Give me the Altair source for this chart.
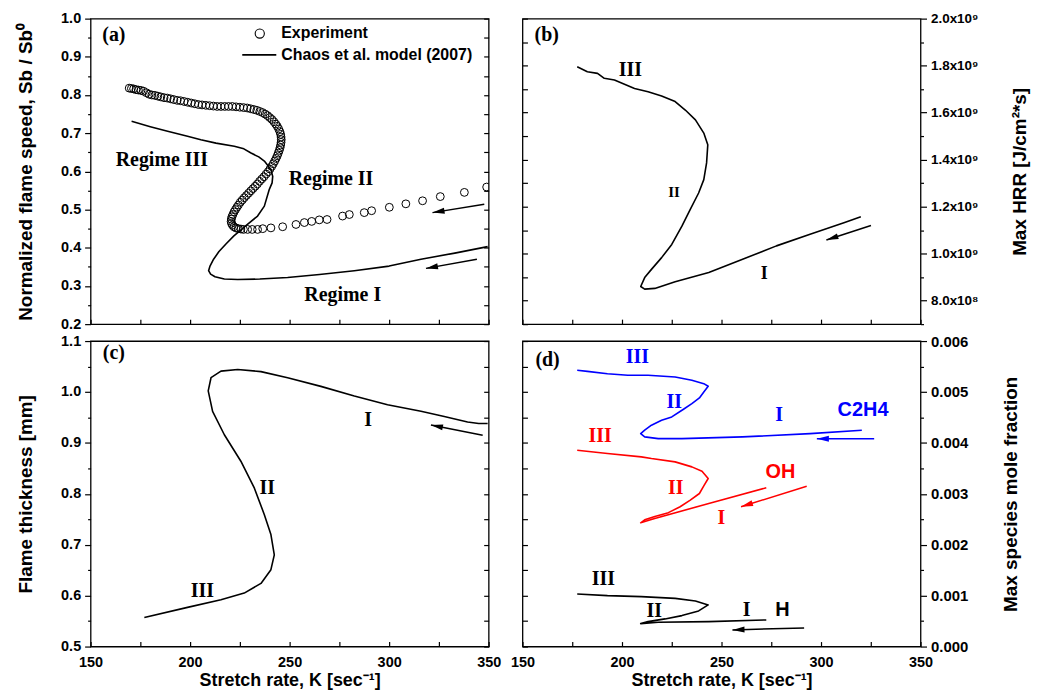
import math
import altair as alt
import pandas as pd

# ---------------- data ----------------
# (a) normalized flame speed: experiment (K, Sb/Sb0)
a_exp = [(169.4, 0.818), (170.5, 0.817), (171.6, 0.816), (172.8, 0.814), (174.0, 0.813), (175.3, 0.812),
         (176.6, 0.810), (178.0, 0.806), (179.4, 0.802), (180.8, 0.800), (182.3, 0.799), (183.8, 0.797),
         (185.3, 0.795), (186.9, 0.793), (188.5, 0.792), (190.2, 0.790), (191.8, 0.788), (193.5, 0.786),
         (195.2, 0.785), (197.0, 0.783), (198.8, 0.781), (200.6, 0.779), (202.4, 0.777), (204.2, 0.775),
         (206.0, 0.774), (207.9, 0.773), (209.8, 0.772), (211.7, 0.771), (213.6, 0.770), (215.5, 0.770),
         (217.4, 0.770), (219.3, 0.770), (221.2, 0.770), (223.1, 0.769), (225.0, 0.768), (226.9, 0.767),
         (228.7, 0.766), (230.4, 0.764), (232.0, 0.762), (233.5, 0.760), (235.0, 0.757), (236.4, 0.754),
         (237.7, 0.750), (238.9, 0.746), (240.0, 0.741), (241.1, 0.736), (242.1, 0.730), (243.0, 0.724),
         (243.8, 0.718), (244.5, 0.711), (245.1, 0.704), (245.5, 0.697), (245.7, 0.690), (245.8, 0.683),
         (245.7, 0.676), (245.5, 0.669), (245.2, 0.662), (244.8, 0.655), (244.3, 0.648), (243.8, 0.641),
         (243.2, 0.634), (242.5, 0.627), (241.8, 0.620), (241.0, 0.613), (240.1, 0.606), (239.2, 0.599),
         (238.2, 0.593), (237.1, 0.586), (236.0, 0.580), (234.9, 0.574), (233.8, 0.567), (232.7, 0.561),
         (231.6, 0.555), (230.5, 0.549), (229.4, 0.543), (228.3, 0.537), (227.2, 0.531), (226.2, 0.525),
         (225.2, 0.519), (224.3, 0.512), (223.5, 0.506), (222.8, 0.500), (222.1, 0.494), (221.5, 0.487),
         (221.0, 0.481), (220.7, 0.475), (220.6, 0.469), (220.8, 0.464), (221.3, 0.459), (222.0, 0.455),
         (223.0, 0.452), (224.2, 0.450), (225.5, 0.449), (226.8, 0.448), (228.9, 0.448), (231.2, 0.448),
         (233.9, 0.448), (236.5, 0.450), (240.6, 0.452), (246.5, 0.455), (253.2, 0.461), (257.4, 0.466),
         (261.1, 0.469), (264.9, 0.473), (268.8, 0.474), (276.6, 0.483), (280.0, 0.487), (287.5, 0.492),
         (291.2, 0.497), (300.1, 0.506), (308.4, 0.515), (316.8, 0.523), (325.7, 0.534), (337.8, 0.545),
         (349.0, 0.559)]
# (a) Chaos et al. model (2007)
a_mod = [(170.6, 0.731), (180.0, 0.717), (188.7, 0.705), (198.7, 0.692), (205.4, 0.683), (213.0, 0.674),
         (222.2, 0.666), (227.0, 0.659), (230.6, 0.648), (234.5, 0.638), (237.3, 0.627), (240.6, 0.605),
         (241.5, 0.587), (241.2, 0.570), (239.8, 0.553), (237.3, 0.509), (233.9, 0.483), (228.5, 0.460),
         (222.0, 0.431), (218.0, 0.410), (214.5, 0.390), (211.8, 0.370), (210.0, 0.352), (209.3, 0.340),
         (210.3, 0.331), (212.5, 0.324), (217.2, 0.318), (223.9, 0.317), (235.0, 0.318), (249.0, 0.322),
         (265.0, 0.330), (282.5, 0.340), (300.0, 0.352), (316.0, 0.370), (333.0, 0.386), (349.5, 0.403)]

# (b) max heat release rate (K, HRR)
b_k = [177.5, 182.6, 187.7, 191.1, 196.2, 206.3, 213.1, 219.9, 226.7, 231.8, 236.9, 241.1, 243.1, 242.5,
       241.1, 238.5, 234.3, 230.1, 225.0, 219.9, 214.8, 211.4, 209.4, 211.4, 216.5, 226.7, 243.6, 260.6,
       277.6, 294.5, 311.5, 320.0]
b_hrr = [1.795e9, 1.774e9, 1.767e9, 1.746e9, 1.739e9, 1.703e9, 1.689e9, 1.671e9, 1.647e9, 1.611e9,
         1.569e9, 1.513e9, 1.463e9, 1.386e9, 1.315e9, 1.258e9, 1.188e9, 1.117e9, 1.039e9, 0.983e9,
         0.933e9, 0.898e9, 0.860e9, 0.849e9, 0.852e9, 0.880e9, 0.920e9, 0.976e9, 1.033e9, 1.082e9,
         1.131e9, 1.157e9]

# (c) flame thickness (K, mm)
c_k = [177.0, 198.7, 215.5, 227.2, 235.6, 240.6, 242.3, 240.6, 237.3, 232.3, 225.5, 217.2, 211.3, 209.1,
       210.5, 215.5, 223.9, 235.6, 249.0, 265.7, 282.5, 299.2, 316.0, 327.7, 339.4, 345.0, 349.5]
c_thk = [0.557, 0.577, 0.592, 0.605, 0.624, 0.651, 0.680, 0.720, 0.759, 0.811, 0.864, 0.916, 0.962, 1.002,
         1.028, 1.041, 1.044, 1.040, 1.028, 1.011, 0.992, 0.975, 0.962, 0.952, 0.941, 0.938, 0.938]

# (d) max species mole fraction
d_c2h4_k = [177.5, 182.6, 192.7, 202.9, 213.1, 226.7, 235.1, 241.1, 243.3, 241.1, 238.9, 235.1, 230.9,
            225.0, 219.9, 214.8, 211.4, 209.4, 211.4, 218.2, 230.1, 260.6, 294.5, 320.5]
d_c2h4 = [0.005425, 0.005405, 0.005359, 0.005327, 0.005327, 0.005294, 0.005229, 0.005163, 0.005112,
          0.005000, 0.004882, 0.004771, 0.004661, 0.004510, 0.004445, 0.004347, 0.004249, 0.004182,
          0.004118, 0.004084, 0.004084, 0.004118, 0.004182, 0.004249]
d_oh_k = [177.5, 192.7, 209.7, 214.8, 226.7, 235.1, 240.2, 243.3, 241.1, 238.9, 234.3, 229.2, 223.3,
          216.5, 211.4, 209.4, 216.0, 243.6, 272.5]
d_oh = [0.003857, 0.003790, 0.003725, 0.003692, 0.003627, 0.003529, 0.003444, 0.003300, 0.003157,
        0.003006, 0.002876, 0.002745, 0.002630, 0.002555, 0.002490, 0.002431, 0.002510, 0.002810, 0.003118]
d_h_k = [177.5, 192.7, 209.7, 226.7, 236.9, 243.3, 238.5, 230.1, 221.6, 213.1, 209.4, 218.2, 243.6, 272.5]
d_h = [0.001033, 0.001000, 0.000980, 0.000947, 0.000896, 0.000818, 0.000700, 0.000608, 0.000543,
       0.000490, 0.000451, 0.000477, 0.000490, 0.000523]

# arrows (start K, start value, end K, end value[, colour])
a_arrows = [(347.8, 0.514, 321.8, 0.492), (344.1, 0.370, 318.5, 0.346)]
b_arrows = [(325.1, 1.120e9, 302.7, 1.058e9)]
c_arrows = [(347.0, 0.915, 321.0, 0.935)]
d_arrows = [(326.7, 0.00408, 297.9, 0.00408, "#0000ff"),
            (292.8, 0.00315, 259.8, 0.002745, "#ff0000"),
            (291.5, 0.000366, 255.5, 0.000327, "#000000")]

# text annotations (K, value, text, colour, size)
a_serif = [(161.7, 0.957, "(a)", "black", 20), (185.8, 0.631, "Regime III", "black", 20),
           (270.8, 0.579, "Regime II", "black", 20), (276.7, 0.275, "Regime I", "black", 20)]
b_serif = [(162.2, 1.929e9, "(b)", "black", 20), (204.2, 1.781e9, "III", "black", 20),
           (226.1, 1.264e9, "II", "black", 15), (271.5, 0.914e9, "I", "black", 18)]
c_serif = [(161.7, 1.077, "(c)", "black", 20), (289.5, 0.944, "I", "black", 20),
           (238.7, 0.811, "II", "black", 20), (206.2, 0.609, "III", "black", 20)]
d_serif = [(162.6, 0.00562, "(d)", "black", 20),
           (207.7, 0.005686, "III", "#0000ff", 20), (226.2, 0.004804, "II", "#0000ff", 20),
           (278.9, 0.004543, "I", "#0000ff", 20),
           (189.0, 0.004137, "III", "#ff0000", 20), (227.0, 0.003118, "II", "#ff0000", 20),
           (249.9, 0.002516, "I", "#ff0000", 20),
           (190.6, 0.001327, "III", "black", 20), (216.2, 0.000700, "II", "black", 20),
           (262.6, 0.000719, "I", "black", 20)]
d_sans = [(321.1, 0.004641, "C2H4", "#0000ff", 20), (279.6, 0.003418, "OH", "#ff0000", 20),
          (280.6, 0.000719, "H", "black", 20)]

# legend of (a)
leg_marker = (235.0, 0.961)
leg_line = [(226.2, 0.905), (243.3, 0.905)]
leg_text = [(245.8, 0.961, "Experiment"), (245.8, 0.905, "Chaos et al. model (2007)")]

X_TICKS = list(range(150, 351, 25))
A_DOM, A_TICKS = [0.2, 1.0], [round(0.2 + 0.05 * i, 2) for i in range(17)]
B_DOM, B_TICKS = [0.7e9, 2.0e9], [round(7 + i) * 1e8 for i in range(14)]
C_DOM, C_TICKS = [0.5, 1.1], [round(0.5 + 0.05 * i, 2) for i in range(13)]
D_DOM, D_TICKS = [0.0, 0.006], [round(0.0005 * i, 4) for i in range(13)]

# ---------------- styling ----------------
W, H = 400, 307
SANS = "Liberation Sans"
SERIF = "Liberation Serif"
ARROW_HEAD = "M0,0L0.55,2.2L-0.55,2.2Z"


def x_enc(bottom):
    if bottom:
        ax = alt.Axis(values=X_TICKS, labelExpr="round(datum.value) % 50 == 0 ? datum.label : ''",
                      title="Stretch rate, K [sec⁻¹]", tickSize=5, offset=-5, labelPadding=9,
                      titlePadding=3, domain=False, grid=False, labelFlush=False,
                      labelFontSize=14.5, titleFontSize=18)
    else:
        ax = alt.Axis(values=X_TICKS, labels=False, title=None, tickSize=5, offset=-5,
                      domain=False, grid=False)
    return alt.X("k:Q", scale=alt.Scale(domain=[150, 350], nice=False, zero=False), axis=ax)


def y_enc(dom, ticks, label_expr, major_test, orient, title, label_size=14.5, title_pad=25):
    kw = dict(values=ticks, labelExpr=label_expr, orient=orient, title=title,
              tickSize={"condition": {"test": major_test, "value": 6}, "value": 3},
              labelPadding=4, titlePadding=title_pad, domain=False, grid=False,
              labelFontSize=label_size, labelFlush=False, titleFontSize=19)
    if orient == "right":
        kw.update(titleAngle=270, titleBaseline="top")
    return alt.Y("v:Q", scale=alt.Scale(domain=dom, nice=False, zero=False), axis=alt.Axis(**kw))


def mirror_y(dom, ticks, orient):
    return alt.Y("v:Q", scale=alt.Scale(domain=dom, nice=False, zero=False),
                 axis=alt.Axis(values=ticks, orient=orient, labels=False, title=None, tickSize=5,
                               offset=-5, domain=False, grid=False))


def arrows(arrs, dom, color_default="black"):
    rows, heads = [], []
    for j, a in enumerate(arrs):
        k0, v0, k1, v1 = a[:4]
        col = a[4] if len(a) > 4 else color_default
        rows += [{"k": k0, "v": v0, "id": j, "i": 0, "c": col}, {"k": k1, "v": v1, "id": j, "i": 1, "c": col}]
        dxs = (k1 - k0) * W / 200.0
        dys = -(v1 - v0) * H / (dom[1] - dom[0])
        ang = math.degrees(math.atan2(dxs, -dys)) % 360
        heads.append({"k": k1, "v": v1, "ang": ang, "c": col})
    return pd.DataFrame(rows), pd.DataFrame(heads)


def panel(xe, ye, ym, dom, curves, points_df, arrs, serif_items, sans_items=None, extra=None):
    layers = []
    for df, color in curves:
        layers.append(alt.Chart(df).mark_line(strokeWidth=1.6, strokeJoin="round", color=color)
                      .encode(x=xe, y=ye, order="i:Q"))
    if points_df is not None:
        layers.append(alt.Chart(points_df).mark_point(shape="circle", filled=False, size=62,
                                                      strokeWidth=1, color="black", opacity=1, clip=True)
                      .encode(x=xe, y=ye))
    adf, hdf = arrows(arrs, dom)
    layers.append(alt.Chart(adf).mark_line(strokeWidth=1.5)
                  .encode(x=xe, y=ye, order="i:Q", detail="id:N", color=alt.Color("c:N", scale=None)))
    layers.append(alt.Chart(hdf).mark_point(shape=ARROW_HEAD, filled=True, size=121, opacity=1, strokeWidth=0)
                  .encode(x=xe, y=ye, angle=alt.Angle("ang:Q", scale=None), color=alt.Color("c:N", scale=None)))
    for items, font in ((serif_items, SERIF), (sans_items, SANS)):
        if items:
            df = pd.DataFrame(items, columns=["k", "v", "t", "c", "s"])
            layers.append(alt.Chart(df).mark_text(font=font, fontWeight="bold", align="center", baseline="middle")
                          .encode(x=xe, y=ye, text="t:N", color=alt.Color("c:N", scale=None),
                                  size=alt.Size("s:Q", scale=None)))
    if extra:
        layers += extra(xe, ye)
    main = alt.layer(*layers)
    corner = pd.DataFrame({"k": [150, 350], "v": dom})
    mirror = alt.Chart(corner).mark_point(opacity=0).encode(x=xe, y=ym)
    return alt.layer(main, mirror).resolve_scale(y="independent").properties(width=W, height=H)


def df_xy(ks, vs):
    return pd.DataFrame({"k": ks, "v": vs, "i": range(len(ks))})


# ---------------- panels ----------------
lab_1f = "round(datum.value*20) % 2 == 0 ? format(datum.value, '.1f') : ''"
maj_1f = "round(datum.value*20) % 2 == 0"

ya = y_enc(A_DOM, A_TICKS, lab_1f, maj_1f, "left", "Normalized flame speed, Sb / Sb⁰")
yc = y_enc(C_DOM, C_TICKS, lab_1f, maj_1f, "left", "Flame thickness [mm]")
yb = y_enc(B_DOM, B_TICKS,
           "round(datum.value/1e8) % 2 == 0 ? (datum.value > 0.95e9 ? format(datum.value/1e9, '.1f') + 'x10⁹' "
           ": format(datum.value/1e8, '.1f') + 'x10⁸') : ''",
           "round(datum.value/1e8) % 2 == 0", "right", "Max HRR [J/cm²*s]", label_size=13.5, title_pad=33)
yd = y_enc(D_DOM, D_TICKS, "round(datum.value*2000) % 2 == 0 ? format(datum.value, '.3f') : ''",
           "round(datum.value*2000) % 2 == 0", "right", "Max species mole fraction", label_size=15,
           title_pad=34)


def legend_a(xe, ye):
    mk = pd.DataFrame({"k": [leg_marker[0]], "v": [leg_marker[1]]})
    ln = pd.DataFrame({"k": [p[0] for p in leg_line], "v": [p[1] for p in leg_line], "i": [0, 1]})
    tx = pd.DataFrame(leg_text, columns=["k", "v", "t"])
    return [
        alt.Chart(mk).mark_point(shape="circle", filled=False, size=85, strokeWidth=1.1, color="black", opacity=1)
        .encode(x=xe, y=ye),
        alt.Chart(ln).mark_line(color="black", strokeWidth=1.6).encode(x=xe, y=ye, order="i:Q"),
        alt.Chart(tx).mark_text(font=SANS, fontWeight="bold", fontSize=16, align="left", baseline="middle",
                                color="black").encode(x=xe, y=ye, text="t:N"),
    ]


pa = panel(x_enc(False), ya, mirror_y(A_DOM, A_TICKS, "right"), A_DOM,
           [(pd.DataFrame({"k": [p[0] for p in a_mod], "v": [p[1] for p in a_mod], "i": range(len(a_mod))}), "black")],
           pd.DataFrame({"k": [p[0] for p in a_exp], "v": [p[1] for p in a_exp]}),
           a_arrows, a_serif, None, legend_a)
pb = panel(x_enc(False), yb, mirror_y(B_DOM, B_TICKS, "left"), B_DOM,
           [(df_xy(b_k, b_hrr), "black")], None, b_arrows, b_serif)
pc = panel(x_enc(True), yc, mirror_y(C_DOM, C_TICKS, "right"), C_DOM,
           [(df_xy(c_k, c_thk), "black")], None, c_arrows, c_serif)
pdd = panel(x_enc(True), yd, mirror_y(D_DOM, D_TICKS, "left"), D_DOM,
            [(df_xy(d_c2h4_k, d_c2h4), "#0000ff"), (df_xy(d_oh_k, d_oh), "#ff0000"), (df_xy(d_h_k, d_h), "black")],
            None, d_arrows, d_serif, d_sans)

chart = (
    alt.concat(pa, pb, pc, pdd, columns=2, spacing={"row": 17, "column": 34}, bounds="flush")
    .resolve_scale(x="independent", y="independent")
    .properties(padding={"left": 8, "top": 0, "right": 0, "bottom": 2})
    .configure_view(stroke="black", strokeWidth=1.3)
    .configure_axis(labelFont=SANS, labelFontWeight="bold", labelFontSize=14.5, labelColor="black",
                    titleFont=SANS, titleFontWeight="bold", titleFontSize=19, titleColor="black",
                    tickColor="black", tickWidth=1.2)
)

chart.save("out.html", embed_options={"renderer": "svg", "actions": False})
